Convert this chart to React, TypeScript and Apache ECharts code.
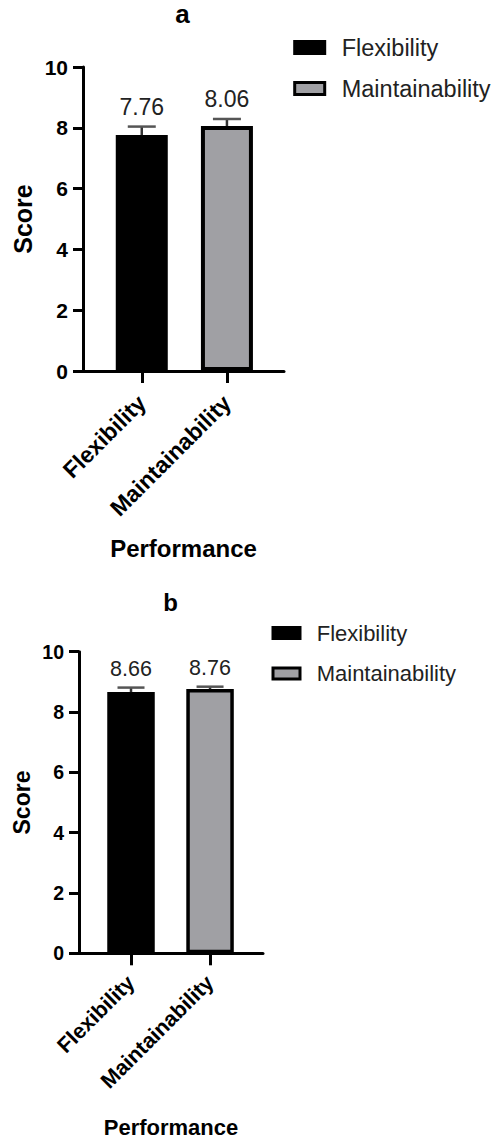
import React, { useEffect, useRef } from 'react';
import * as echarts from 'echarts';

const categories = ['Flexibility', 'Maintainability'];
const seriesNames = ['Flexibility', 'Maintainability'];
const meansA = [7.76, 8.06];
const errorsA = [0.28, 0.23];
const meansB = [8.66, 8.76];
const errorsB = [0.15, 0.08];
const yMin = 0;
const yMax = 10;
const yInterval = 2;
const panelTitles = ['a', 'b'];
const xAxisTitle = 'Performance';
const yAxisTitle = 'Score';

const FONT = '"Liberation Sans", Arial, sans-serif';
const BAR_COLORS = ['#000000', '#a0a0a4'];

type Panel = {
  means: number[];
  errors: number[];
  title: string;
  grid: { left: number; top: number; width: number; height: number };
  xMin: number;
  xMax: number;
  barWidth: number;
  border: number;
  capW: number;
  fTitle: number;
  fTick: number;
  fCat: number;
  fName: number;
  fScore: number;
  fValue: number;
  fLegend: number;
  titleX: number;
  titleTop: number;
  nameGapX: number;
  nameGapY: number;
  catMargin: number;
  lgLeft: number;
  lgTop: number;
  lgW: number;
  lgH: number;
  lgGap: number;
  lgPad: number;
  lgLH: number;
  axisW: number;
};

const panels: Panel[] = [
  {
    means: meansA, errors: errorsA, title: panelTitles[0],
    grid: { left: 83, top: 67, width: 201, height: 304 },
    xMin: -0.69, xMax: 1.67, barWidth: 52, border: 4, capW: 28,
    fTitle: 26, fTick: 21, fCat: 23, fName: 24, fScore: 25, fValue: 23, fLegend: 23.5,
    titleX: 177.5, titleTop: -4, nameGapX: 165, nameGapY: 48, catMargin: 28,
    lgLeft: 293.2, lgTop: 34.5, lgW: 30, lgH: 12, lgGap: 15, lgPad: 12, lgLH: 26, axisW: 3,
  },
  {
    means: meansB, errors: errorsB, title: panelTitles[1],
    grid: { left: 79, top: 651.7, width: 184, height: 301.6 },
    xMin: -0.658, xMax: 1.67, barWidth: 47.5, border: 3.5, capW: 27,
    fTitle: 24, fTick: 19.5, fCat: 21.5, fName: 22, fScore: 23, fValue: 21.5, fLegend: 22,
    titleX: 165.5, titleTop: 585, nameGapX: 163, nameGapY: 46, catMargin: 26,
    lgLeft: 271.5, lgTop: 621, lgW: 27, lgH: 11, lgGap: 16.5, lgPad: 11.7, lgLH: 24, axisW: 3,
  },
];

function buildOption() {
  const grid: any[] = [];
  const xAxis: any[] = [];
  const yAxis: any[] = [];
  const series: any[] = [];
  const title: any[] = [];
  const legend: any[] = [];

  panels.forEach((p, pi) => {
    grid.push({ ...p.grid, containLabel: false });
    title.push({
      text: p.title,
      left: p.titleX,
      top: p.titleTop,
      textAlign: 'center',
      textStyle: { fontFamily: FONT, fontSize: p.fTitle, fontWeight: 'bold', color: '#000' },
    });
    xAxis.push({
      type: 'value',
      gridIndex: pi,
      min: p.xMin,
      max: p.xMax,
      name: xAxisTitle,
      nameLocation: 'middle',
      nameGap: p.nameGapX,
      nameTextStyle: { fontFamily: FONT, fontSize: p.fName, fontWeight: 'bold', color: '#000' },
      splitLine: { show: false },
      axisLine: { show: true, onZero: false, lineStyle: { color: '#000', width: p.axisW } },
      axisTick: {
        show: true,
        customValues: [0, 1],
        length: 12,
        lineStyle: { color: '#000', width: p.axisW },
      },
      axisLabel: {
        show: true,
        customValues: [0, 1],
        rotate: 45,
        margin: p.catMargin,
        formatter: (v: number) => categories[Math.round(v)] ?? '',
        fontFamily: FONT,
        fontSize: p.fCat,
        fontWeight: 'bold',
        color: '#000',
      },
    });
    yAxis.push({
      type: 'value',
      gridIndex: pi,
      min: yMin,
      max: yMax,
      interval: yInterval,
      name: yAxisTitle,
      nameLocation: 'middle',
      nameGap: p.nameGapY,
      nameTextStyle: { fontFamily: FONT, fontSize: p.fScore, fontWeight: 'bold', color: '#000' },
      splitLine: { show: false },
      axisLine: { show: true, onZero: false, lineStyle: { color: '#000', width: p.axisW } },
      axisTick: { show: true, length: 10, lineStyle: { color: '#000', width: p.axisW } },
      axisLabel: {
        margin: 15,
        fontFamily: FONT,
        fontSize: p.fTick,
        fontWeight: 'bold',
        color: '#000',
      },
    });
    seriesNames.forEach((name, si) => {
      series.push({
        type: 'bar',
        name,
        xAxisIndex: pi,
        yAxisIndex: pi,
        barWidth: p.barWidth,
        barGap: '-100%',
        data: [[si, p.means[si]]],
        itemStyle: { color: BAR_COLORS[si], borderColor: '#000', borderWidth: p.border },
        z: 2,
      });
    });
    const capW = p.capW;
    const fValue = p.fValue;
    series.push({
      type: 'custom',
      name: 'err' + pi,
      xAxisIndex: pi,
      yAxisIndex: pi,
      z: 5,
      data: p.means.map((m, i) => [i, m, p.errors[i]]),
      encode: { x: 0, y: 1 },
      renderItem: (params: any, api: any) => {
        const x = api.value(0);
        const m = api.value(1);
        const e = api.value(2);
        const base = api.coord([x, m]);
        const top = api.coord([x, m + e]);
        const hw = capW / 2;
        return {
          type: 'group',
          children: [
            {
              type: 'line',
              shape: { x1: base[0], y1: base[1], x2: top[0], y2: top[1] },
              style: { stroke: '#333', lineWidth: 2.5 },
            },
            {
              type: 'line',
              shape: { x1: top[0] - hw, y1: top[1], x2: top[0] + hw, y2: top[1] },
              style: { stroke: '#555', lineWidth: 2.5 },
            },
            {
              type: 'text',
              x: top[0],
              y: top[1] - 8,
              style: {
                text: m.toFixed(2),
                align: 'center',
                verticalAlign: 'bottom',
                fontFamily: FONT,
                fontSize: fValue,
                fill: '#222',
              },
            },
          ],
        };
      },
    });
    legend.push({
      orient: 'vertical',
      left: p.lgLeft,
      top: p.lgTop,
      padding: 0,
      itemWidth: p.lgW,
      itemHeight: p.lgH,
      itemGap: p.lgGap,
      icon: 'rect',
      selectedMode: false,
      data: seriesNames.map((n, si) => ({
        name: n,
        icon: 'rect',
        itemStyle: { color: BAR_COLORS[si], borderColor: '#000', borderWidth: 3 },
      })),
      textStyle: {
        fontFamily: FONT,
        fontSize: p.fLegend,
        lineHeight: p.lgLH,
        color: '#222',
        padding: [0, 0, 0, p.lgPad],
      },
    });
  });

  return { animation: false, backgroundColor: '#fff', title, legend, grid, xAxis, yAxis, series };
}

export default function App() {
  const ref = useRef<HTMLDivElement>(null);
  useEffect(() => {
    document.body.style.margin = '0';
    if (!ref.current) return;
    const chart = echarts.init(ref.current, undefined, { renderer: 'svg' });
    chart.setOption(buildOption());
    return () => chart.dispose();
  }, []);
  return <div ref={ref} style={{ width: 495, height: 1144 }} />;
}
